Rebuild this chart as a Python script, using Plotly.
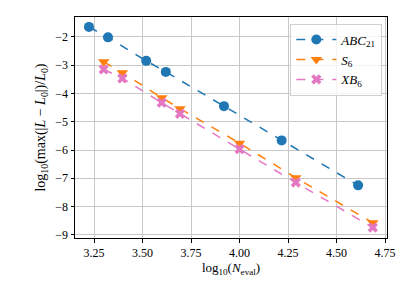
import plotly.graph_objects as go

abc_x = [3.224, 3.322, 3.519, 3.62, 3.92, 4.217, 4.611]
abc_y = [-1.65, -2.02, -2.85, -3.24, -4.45, -5.66, -7.25]
s6_x = [3.30, 3.396, 3.599, 3.693, 4.0, 4.29, 4.687]
s6_y = [-2.88, -3.27, -4.15, -4.54, -5.76, -6.98, -8.57]
xb_x = [3.30, 3.396, 3.599, 3.693, 4.0, 4.29, 4.687]
xb_y = [-3.15, -3.47, -4.33, -4.72, -5.97, -7.15, -8.74]

x_ticks = [3.25, 3.50, 3.75, 4.00, 4.25, 4.50, 4.75]
y_ticks = [-2, -3, -4, -5, -6, -7, -8, -9]

FONT = "Liberation Serif"

fig = go.Figure()
fig.add_trace(go.Scatter(x=abc_x, y=abc_y, mode="lines+markers", name="<i>ABC</i><sub>21</sub>",
                         line=dict(color="#1f77b4", width=1.5, dash="dash"),
                         marker=dict(symbol="circle", size=10, color="#1f77b4")))
fig.add_trace(go.Scatter(x=s6_x, y=s6_y, mode="lines+markers", name="<i>S</i><sub>6</sub>",
                         line=dict(color="#ff7f0e", width=1.5, dash="dash"),
                         marker=dict(symbol="triangle-down", size=10, color="#ff7f0e")))
fig.add_trace(go.Scatter(x=xb_x, y=xb_y, mode="lines+markers", name="<i>XB</i><sub>6</sub>",
                         line=dict(color="#e377c2", width=1.5, dash="dash"),
                         marker=dict(symbol="x", size=9, color="#e377c2")))

fig.update_layout(
    width=401, height=282,
    margin=dict(l=67, r=22, t=9, b=52, autoexpand=False),
    paper_bgcolor="white", plot_bgcolor="white",
    font=dict(family=FONT, size=12, color="black"),
    showlegend=True,
    legend=dict(x=0.985, y=0.97, xanchor="right", yanchor="top",
                bgcolor="rgba(255,255,255,0.8)", bordercolor="#d0d0d0", borderwidth=1,
                font=dict(family=FONT, size=13), itemwidth=40, tracegroupgap=0),
)
fig.update_xaxes(range=[3.152, 4.76], tickvals=x_ticks,
                 ticktext=[f"{v:.2f}" for v in x_ticks],
                 showgrid=True, gridcolor="#c8c8c8", gridwidth=1,
                 showline=True, linecolor="black", linewidth=1, mirror=True,
                 ticks="outside", ticklen=3.5, tickcolor="black",
                 zeroline=False, automargin=False,
                 title=dict(text="log<sub>10</sub>(<i>N</i><sub>eval</sub>)", font=dict(size=13), standoff=2))
fig.update_yaxes(range=[-9.11, -1.30], tickvals=y_ticks,
                 ticktext=["\u2212" + str(-v) for v in y_ticks],
                 showgrid=True, gridcolor="#c8c8c8", gridwidth=1,
                 showline=True, linecolor="black", linewidth=1, mirror=True,
                 ticks="outside", ticklen=3.5, tickcolor="black",
                 zeroline=False, automargin=False,
                 title=dict(text="log<sub>10</sub>(max(|<i>L</i> \u2212 <i>L</i><sub>0</sub>|)/<i>L</i><sub>0</sub>)",
                            font=dict(size=14), standoff=6))

fig.write_html("out.html")
